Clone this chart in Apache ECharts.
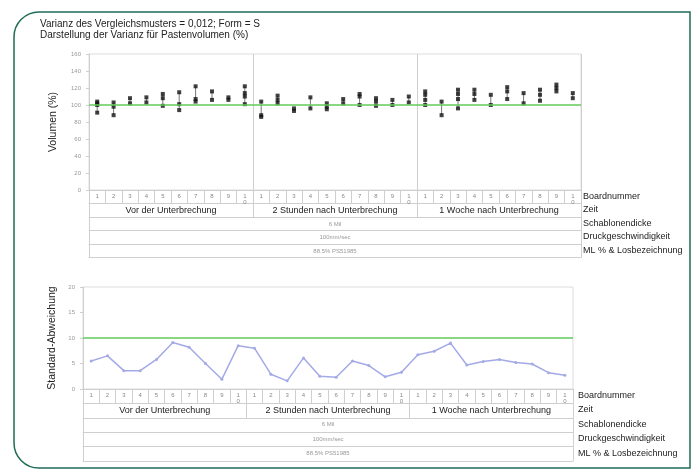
<!DOCTYPE html>
<html>
<head>
<meta charset="utf-8">
<script src="https://cdn.jsdelivr.net/npm/echarts@6/dist/echarts.min.js"></script>
<style>html,body{margin:0;padding:0;background:#fff}#c{width:695px;height:470px}</style>
</head>
<body>
<div id="c"></div>
<script>
// ---- data ----
const titleLines = ['Varianz des Vergleichsmusters = 0,012; Form = S', 'Darstellung der Varianz für Pastenvolumen (%)'];
const boards = ['1','2','3','4','5','6','7','8','9','1\n0'];
const zeit = ['Vor der Unterbrechung', '2 Stunden nach Unterbrechung', '1 Woche nach Unterbrechung'];
const schablone = ['6 Mil'];
const druck = ['100mm/sec'];
const mlLos = ['88.5% PS51985'];
const rowNames = ['Boardnummer', 'Zeit', 'Schablonendicke', 'Druckgeschwindigkeit', 'ML % & Losbezeichnung'];
const volVor = [[104,102,100,91],[103,98,88],[108,102],[109,103],[113,108,99],[115,101,94],[122,107,104],[116,106],[109,106],[122,114,110,101]];
const vol2h  = [[104,88,86],[111,106,102],[96,93],[109,96],[102,98,95],[107,102],[113,110,100],[108,104,99],[106,100],[110,103]];
const vol1w  = [[116,112,106,100],[104,88],[118,113,107,96],[118,113,106],[112,100],[121,116,107],[114,102],[118,112,105],[124,120,116],[114,108]];
const sdVor = [5.5,6.5,3.6,3.6,5.8,9.1,8.2,5.0,1.9,8.5];
const sd2h  = [8.0,2.9,1.6,6.1,2.5,2.3,5.5,4.6,2.4,3.3];
const sd1w  = [6.7,7.4,9.0,4.7,5.4,5.8,5.2,4.9,3.2,2.7];
const volRef = 100;
const sdRef = 10;

// ---- build ----
const NARROW = '"Liberation Sans Narrow","Liberation Sans",sans-serif';
const boardCats = [].concat(boards, boards, boards);
const volAll = [].concat(volVor, vol2h, vol1w);
const sdAll = [].concat(sdVor, sd2h, sd1w);
const pts = [], ranges = [];
volAll.forEach((arr, i) => {
  arr.forEach(v => pts.push([i, v]));
  ranges.push([i, Math.min.apply(null, arr), Math.max.apply(null, arr)]);
});
const sdData = sdAll.map((v, i) => [i, v]);

const gridLine = '#cfcfcf';
function tableAxes(g, rowH, nameGap, zeitSplit) {
  const nameStyle = {fontFamily: NARROW, fontSize: 9, color: '#222', align: 'left', verticalAlign: 'top', padding: [2, 0, 0, 0]};
  const base = (data, off, name) => ({
    type: 'category', gridIndex: g, data: data, position: 'bottom', offset: off, boundaryGap: true,
    axisLine: {show: true, lineStyle: {color: gridLine}},
    axisTick: {show: true, interval: 0, length: rowH, lineStyle: {color: gridLine}},
    axisLabel: {interval: 0, fontSize: 6, color: '#999', margin: 4},
    splitLine: {show: false},
    name: name, nameLocation: 'end', nameGap: nameGap, nameTextStyle: nameStyle
  });
  const a0 = base(boardCats, 0, rowNames[0]);
  a0.axisLabel = {interval: 0, fontSize: 6, color: '#888', margin: 3, lineHeight: 6};
  const a1 = base(zeit, rowH, rowNames[1]);
  a1.axisLabel = {interval: 0, fontSize: 9, fontFamily: NARROW, color: '#222', margin: 3};
  a1.splitLine = {show: zeitSplit, lineStyle: {color: gridLine}};
  const a2 = base(schablone, rowH * 2, rowNames[2]);
  const a3 = base(druck, rowH * 3, rowNames[3]);
  const a4 = base(mlLos, rowH * 4, rowNames[4]);
  const a5 = base(['x'], rowH * 5, '');
  a5.axisTick = {show: false}; a5.axisLabel = {show: false};
  return [a0, a1, a2, a3, a4, a5];
}

const chart = echarts.init(document.getElementById('c'), null, {renderer: 'canvas'});
chart.setOption({
  animation: false,
  backgroundColor: '#fff',
  title: {text: titleLines.join('\n'), left: 35, top: 14,
    textStyle: {fontFamily: NARROW, fontSize: 10, fontWeight: 'normal', color: '#222', lineHeight: 11}},
  graphic: [{type: 'rect', shape: {x: 14, y: 12, width: 676, height: 456, r: [25, 0, 0, 25]},
    style: {fill: 'none', stroke: '#1f6b55', lineWidth: 1.5}, silent: true, z: 100}],
  grid: [
    {left: 89, right: 114, top: 54, bottom: 280, show: true, borderColor: '#ddd', borderWidth: 1},
    {left: 83, right: 122, top: 287, bottom: 81, show: true, borderColor: '#ddd', borderWidth: 1}
  ],
  xAxis: [].concat(tableAxes(0, 13.5, 2, true), tableAxes(1, 14.4, 5, false)),
  yAxis: [
    {type: 'value', gridIndex: 0, min: 0, max: 160, interval: 20,
     name: 'Volumen (%)', nameLocation: 'middle', nameGap: 30,
     nameTextStyle: {fontFamily: NARROW, fontSize: 10.5, color: '#222'},
     axisLine: {show: true, lineStyle: {color: gridLine}}, axisTick: {show: true, length: 3, lineStyle: {color: gridLine}},
     axisLabel: {fontSize: 6, color: '#999', margin: 8}, splitLine: {show: false}},
    {type: 'value', gridIndex: 1, min: 0, max: 20, interval: 5,
     name: 'Standard-Abweichung', nameLocation: 'middle', nameGap: 21,
     nameTextStyle: {fontFamily: NARROW, fontSize: 10.5, color: '#222'},
     axisLine: {show: true, lineStyle: {color: gridLine}}, axisTick: {show: true, length: 3, lineStyle: {color: gridLine}},
     axisLabel: {fontSize: 6, color: '#999', margin: 8}, splitLine: {show: false}}
  ],
  series: [
    {type: 'custom', xAxisIndex: 0, yAxisIndex: 0, data: ranges, encode: {x: 0, y: [1, 2]},
     renderItem: function (params, api) {
       const p1 = api.coord([api.value(0), api.value(1)]);
       const p2 = api.coord([api.value(0), api.value(2)]);
       return {type: 'line', shape: {x1: p1[0], y1: p1[1], x2: p2[0], y2: p2[1]}, style: {stroke: '#777', lineWidth: 1}};
     }},
    {type: 'scatter', xAxisIndex: 0, yAxisIndex: 0, data: pts, symbol: 'rect', symbolSize: [4, 4],
     itemStyle: {color: '#111'},
     markLine: {silent: true, symbol: 'none', label: {show: false},
       lineStyle: {color: '#62c85a', width: 1.5, type: 'solid'}, data: [{yAxis: volRef}]}},
    {type: 'line', xAxisIndex: 6, yAxisIndex: 1, data: sdData, symbol: 'circle', symbolSize: 3,
     lineStyle: {color: '#a3aae6', width: 1.5}, itemStyle: {color: '#a3aae6'},
     markLine: {silent: true, symbol: 'none', label: {show: false},
       lineStyle: {color: '#62c85a', width: 1.5, type: 'solid'}, data: [{yAxis: sdRef}]}}
  ]
});
</script>
</body>
</html>
